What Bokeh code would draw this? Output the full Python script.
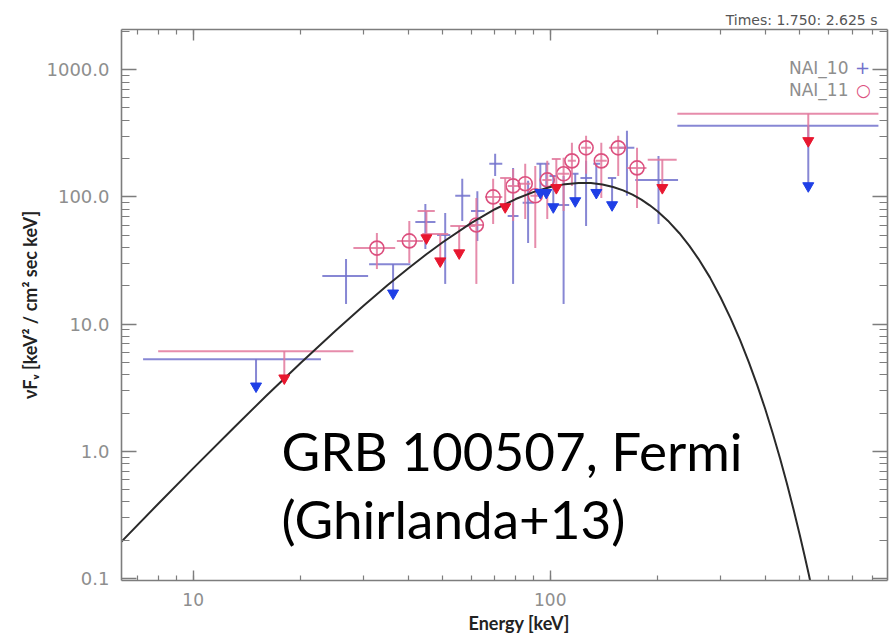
from bokeh.plotting import figure
from bokeh.models import (LogAxis, LogTicker, PrintfTickFormatter, Range1d,
                          Label, Title, ColumnDataSource, CustomJSTickFormatter)
from bokeh.embed import file_html
from bokeh.resources import INLINE

# ---- NAI_10 detections: energy (keV), bin edges, nuFnu and its error range
n10_e   = [26.8, 44.7, 50.8, 56.7, 62.5, 70.1, 78.7, 86.7, 109.0, 126.0, 164.0, 201.0]
n10_elo = [23.0, 41.9, 48.2, 54.2, 60.0, 67.5, 76.0, 83.7, 104.5, 121.5, 155.0, 173.0]
n10_ehi = [30.9, 47.7, 52.5, 59.7, 65.5, 73.4, 81.5, 90.0, 113.0, 131.0, 172.0, 228.0]
n10_f   = [23.9, 63.5, 50.2, 102.0, 77.6, 182.0, 70.8, 89.8, 86.5, 141.0, 243.0, 136.0]
n10_flo = [14.4, 38.9, 20.7, 64.7, 45.1, 146.0, 20.7, 43.5, 14.4, 59.1, 102.0, 61.2]
n10_fhi = [32.5, 88.1, 74.8, 139.0, 111.0, 218.0, 169.0, 134.0, 146.0, 192.0, 331.0, 210.0]

# ---- NAI_10 upper limits: bin, level of the bar, tip of the arrow
n10_ul_e   = [15.0, 36.3, 93.8, 97.5, 102.0, 117.5, 134.6, 149.0, 528.0]
n10_ul_elo = [7.24, 31.1, 91.5, 96.0, 99.5, 115.0, 132.0, 145.0, 227.0]
n10_ul_ehi = [22.8, 40.6, 96.0, 99.5, 104.5, 120.0, 138.0, 153.0, 830.0]
n10_ul_bar = [5.30, 29.6, 182.0, 182.0, 146.0, 152.0, 182.0, 141.0, 362.0]
n10_ul_tip = [3.25, 17.5, 108.0, 108.0, 83.4, 93.0, 108.0, 86.5, 122.0]

# ---- NAI_11 detections
n11_e   = [32.7, 40.3, 62.1, 69.2, 78.7, 85.1, 90.8, 98.1, 109.0, 115.0, 126.0, 139.0, 155.0, 175.0]
n11_elo = [28.1, 37.2, 59.0, 65.7, 76.0, 82.0, 88.0, 95.0, 105.0, 112.0, 122.0, 134.0, 146.0, 164.0]
n11_ehi = [36.8, 44.0, 65.0, 73.4, 81.5, 88.0, 93.5, 101.0, 113.0, 118.0, 130.0, 144.0, 164.0, 186.0]
n11_f   = [39.6, 45.1, 60.2, 100.0, 122.0, 127.0, 102.0, 136.0, 152.0, 192.0, 243.0, 192.0, 243.0, 169.0]
n11_flo = [27.1, 30.2, 20.7, 61.2, 64.7, 67.1, 39.6, 67.1, 77.6, 122.0, 152.0, 98.0, 146.0, 81.9]
n11_fhi = [52.1, 64.7, 98.2, 139.0, 166.0, 182.0, 175.0, 192.0, 203.0, 266.0, 302.0, 266.0, 302.0, 243.0]

# ---- NAI_11 upper limits
n11_ul_e   = [18.0, 45.0, 49.2, 55.6, 74.8, 104.0, 206.0, 528.0]
n11_ul_elo = [7.98, 42.5, 43.8, 52.5, 72.4, 101.0, 187.5, 227.0]
n11_ul_ehi = [28.1, 47.5, 51.8, 61.7, 77.7, 107.0, 226.0, 830.0]
n11_ul_bar = [6.12, 77.6, 51.2, 59.1, 141.0, 199.0, 196.0, 451.0]
n11_ul_tip = [3.76, 47.5, 31.3, 36.2, 83.4, 118.0, 118.0, 276.0]

# ---- best-fit model curve
model_e = [6.3, 8, 10, 13, 16, 20, 25, 30, 35, 40, 45, 50, 60, 70, 80, 90, 100,
           110, 120, 130, 140, 150, 160, 170, 180, 190, 200, 215, 230, 245, 260,
           280, 300, 320, 340, 360, 380, 400, 420, 440, 460, 480, 500, 515, 530, 545]
model_f = [0.195, 0.389, 0.734, 1.53, 2.72, 4.95, 8.84, 13.95, 20.2, 27.4, 35.4,
           44.0, 62.2, 80.0, 96.2, 109.6, 119.6, 126.0, 128.8, 128.5, 125.2, 119.7,
           112.6, 104.2, 95.2, 85.9, 76.8, 63.7, 51.8, 41.4, 32.6, 23.3, 16.2, 11.1,
           7.52, 5.01, 3.30, 2.15, 1.38, 0.883, 0.559, 0.351, 0.219, 0.153, 0.107, 0.074]

BLUE_BAR = "#7272cc"
PINK_BAR = "#e2789c"
PINK_MK = "#dc4f7e"
BLUE_TRI = "#1f3fe6"
RED_TRI = "#e8172f"
AXIS_GREY = "#7d7d7d"
LABEL_GREY = "#8e8e8e"

p = figure(width=889, height=641, x_axis_type="log", y_axis_type="log",
           x_range=Range1d(6.3, 880), y_range=Range1d(0.0965, 2070),
           output_backend="svg", toolbar_location=None,
           min_border_left=121, min_border_right=2,
           min_border_top=29, min_border_bottom=61)
p.grid.visible = False
p.outline_line_color = None
p.background_fill_color = "white"
p.border_fill_color = "white"


def style_axis(ax, tick_major, tick_minor, labels=True):
    ax.ticker = LogTicker(num_minor_ticks=10)
    ax.axis_line_color = AXIS_GREY
    ax.axis_line_width = 1.6
    ax.major_tick_line_color = AXIS_GREY
    ax.minor_tick_line_color = AXIS_GREY
    ax.major_tick_line_width = 1.4
    ax.minor_tick_line_width = 1.2
    ax.major_tick_in = tick_major
    ax.major_tick_out = 0
    ax.minor_tick_in = tick_minor
    ax.minor_tick_out = 0
    ax.major_label_text_font = "DejaVu Sans"
    ax.major_label_text_font_size = "18px"
    ax.major_label_text_color = LABEL_GREY
    if not labels:
        # frame-only axis: ticks, no numbers
        ax.formatter = CustomJSTickFormatter(code="return ''")
        ax.major_label_text_font_size = "1px"
        ax.major_label_standoff = 0


style_axis(p.xaxis[0], 10, 5)
p.xaxis[0].formatter = PrintfTickFormatter(format="%d")
p.xaxis[0].major_label_standoff = 12
p.xaxis[0].major_label_text_font_size = "17px"

style_axis(p.yaxis[0], 15, 8)
p.yaxis[0].formatter = PrintfTickFormatter(format="%.1f")
p.yaxis[0].major_label_standoff = 12
p.yaxis[0].axis_label = "νFᵥ [keV² / cm² sec keV]"
p.yaxis[0].axis_label_text_font = "Lato"
p.yaxis[0].axis_label_text_font_style = "bold"
p.yaxis[0].axis_label_text_font_size = "18px"
p.yaxis[0].axis_label_text_color = "#222222"
p.yaxis[0].axis_label_standoff = 3

top_axis = LogAxis()
style_axis(top_axis, 11, 5, labels=False)
p.add_layout(top_axis, "above")
right_axis = LogAxis()
style_axis(right_axis, 15, 8, labels=False)
p.add_layout(right_axis, "right")

# run-time interval, above the frame on the right
p.add_layout(Title(text="Times: 1.750: 2.625 s", align="right", offset=10,
                   text_font="DejaVu Sans", text_font_size="14px",
                   text_font_style="normal", text_color="#555555", standoff=3), "above")

# x-axis caption
p.add_layout(Title(text="Energy [keV]", align="left", offset=347,
                   text_font="Lato", text_font_size="18px", text_font_style="bold",
                   text_color="#222222", standoff=2), "below")

# ---- NAI_10 points (plain crosses)
s10 = ColumnDataSource(dict(e=n10_e, elo=n10_elo, ehi=n10_ehi, f=n10_f, flo=n10_flo, fhi=n10_fhi))
p.segment(x0="elo", x1="ehi", y0="f", y1="f", source=s10, line_color=BLUE_BAR, line_width=2, line_alpha=0.85)
p.segment(x0="e", x1="e", y0="flo", y1="fhi", source=s10, line_color=BLUE_BAR, line_width=2, line_alpha=0.85)

u10 = ColumnDataSource(dict(e=n10_ul_e, elo=n10_ul_elo, ehi=n10_ul_ehi, bar=n10_ul_bar, tip=n10_ul_tip))
p.segment(x0="elo", x1="ehi", y0="bar", y1="bar", source=u10, line_color=BLUE_BAR, line_width=2, line_alpha=0.85)
p.segment(x0="e", x1="e", y0="bar", y1="tip", source=u10, line_color=BLUE_BAR, line_width=2, line_alpha=0.85)

# ---- NAI_11 points (crossed circles)
s11 = ColumnDataSource(dict(e=n11_e, elo=n11_elo, ehi=n11_ehi, f=n11_f, flo=n11_flo, fhi=n11_fhi))
p.segment(x0="elo", x1="ehi", y0="f", y1="f", source=s11, line_color=PINK_BAR, line_width=2, line_alpha=0.85)
p.segment(x0="e", x1="e", y0="flo", y1="fhi", source=s11, line_color=PINK_BAR, line_width=2, line_alpha=0.85)
p.scatter(x="e", y="f", source=s11, marker="circle", size=14, fill_color=None,
          line_color=PINK_MK, line_width=1.6)

u11 = ColumnDataSource(dict(e=n11_ul_e, elo=n11_ul_elo, ehi=n11_ul_ehi, bar=n11_ul_bar, tip=n11_ul_tip))
p.segment(x0="elo", x1="ehi", y0="bar", y1="bar", source=u11, line_color=PINK_BAR, line_width=2, line_alpha=0.85)
p.segment(x0="e", x1="e", y0="bar", y1="tip", source=u11, line_color=PINK_BAR, line_width=2, line_alpha=0.85)

# ---- model
p.line(model_e, model_f, line_color="#2a2a2a", line_width=2)

# ---- upper-limit arrow heads
p.scatter(x="e", y="tip", source=u10, marker="inverted_triangle", size=11,
          fill_color=BLUE_TRI, line_color=BLUE_TRI)
p.scatter(x="e", y="tip", source=u11, marker="inverted_triangle", size=11,
          fill_color=RED_TRI, line_color=RED_TRI)

# ---- texts inside the frame (screen offsets from the frame's lower-left corner)
def add_text(x, y, text, **kw):
    p.add_layout(Label(x=x, y=y, x_units="screen", y_units="screen", text=text, **kw))

add_text(727, 513, "NAI_10", text_font="DejaVu Sans", text_font_size="17px",
         text_color=LABEL_GREY, text_align="right", text_baseline="middle")
add_text(741, 513, "+", text_font="DejaVu Sans", text_font_size="18px",
         text_color=BLUE_BAR, text_align="center", text_baseline="middle")
add_text(727, 491, "NAI_11", text_font="DejaVu Sans", text_font_size="17px",
         text_color=LABEL_GREY, text_align="right", text_baseline="middle")
add_text(742, 491, "○", text_font="DejaVu Sans", text_font_size="17px",
         text_color=PINK_MK, text_align="center", text_baseline="middle")

add_text(160, 130, "GRB 100507, Fermi", text_font="Lato", text_font_size="53px",
         text_color="black", text_align="left", text_baseline="alphabetic")
add_text(160, 62, "(Ghirlanda+13)", text_font="Lato", text_font_size="53px",
         text_color="black", text_align="left", text_baseline="alphabetic")

open("out.html", "w").write(file_html(p, INLINE))
